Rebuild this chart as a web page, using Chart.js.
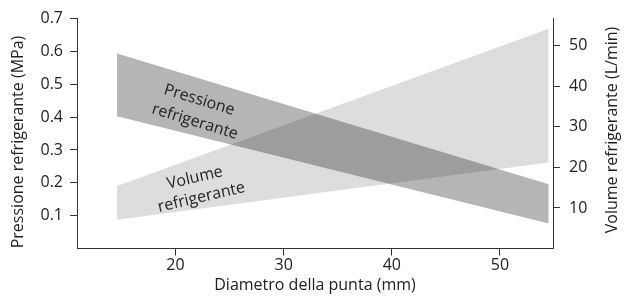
<!DOCTYPE html>
<html><head><meta charset="utf-8">
<script src="https://cdn.jsdelivr.net/npm/chart.js@4/dist/chart.umd.min.js"></script>
<style>html,body{margin:0;padding:0;background:#fff}#wrap{width:630px;height:307px}</style>
</head><body><div id="wrap"><canvas id="c" width="630" height="307"></canvas></div>
<script>
const diameters = [14.6, 54.5];
const pressureUpper = [0.594, 0.196];
const pressureLower = [0.403, 0.076];
const volumeUpper = [15.4, 54.2];
const volumeLower = [7.1, 21.2];
const xTicks = [20, 30, 40, 50];
const pressureTicks = [0.1, 0.2, 0.3, 0.4, 0.5, 0.6, 0.7];
const volumeTicks = [10, 20, 30, 40, 50];
const xTitle = 'Diametro della punta (mm)';
const pressureTitle = 'Pressione refrigerante (MPa)';
const volumeTitle = 'Volume refrigerante (L/min)';
const bandLabels = [
  {text: 'Pressione', axis: 'yP', x: 22.2, y: 0.452, rot: 17},
  {text: 'refrigerante', axis: 'yP', x: 21.8, y: 0.386, rot: 17},
  {text: 'Volume', axis: 'yV', x: 21.8, y: 17.4, rot: -13},
  {text: 'refrigerante', axis: 'yV', x: 22.4, y: 12.6, rot: -13}
];

const FONT = '"Open Sans"';
const FS = 16;
const TXT = '#222';
const AX = '#333';
const pts = (ys) => diameters.map((d, i) => ({x: d, y: ys[i]}));

const textPlugin = {
  id: 'bandText',
  afterDraw(chart) {
    const {ctx, scales} = chart;
    const x = scales.x;
    ctx.save();
    ctx.fillStyle = TXT;
    ctx.textAlign = 'center';
    ctx.textBaseline = 'middle';
    ctx.font = FS + 'px ' + FONT;
    for (const l of bandLabels) {
      const px = x.getPixelForValue(l.x);
      const py = scales[l.axis].getPixelForValue(l.y);
      ctx.save();
      ctx.translate(px, py);
      ctx.rotate(l.rot * Math.PI / 180);
      ctx.fillText(l.text, 0, 0);
      ctx.restore();
    }
    ctx.save();
    ctx.translate(18, 142);
    ctx.rotate(-Math.PI / 2);
    ctx.fillText(pressureTitle, 0, 0);
    ctx.restore();
    ctx.save();
    ctx.translate(612, 130);
    ctx.rotate(-Math.PI / 2);
    ctx.fillText(volumeTitle, 0, 0);
    ctx.restore();
    ctx.restore();
  }
};

const axisCommon = {
  grid: {drawOnChartArea: false, drawTicks: true, tickLength: 7, color: AX, lineWidth: 1},
  border: {display: true, color: AX, width: 1}
};

new Chart(document.getElementById('c'), {
  type: 'line',
  data: {
    datasets: [
      {label: 'Pressione sup', data: pts(pressureUpper), yAxisID: 'yP', fill: '+1',
       backgroundColor: 'rgba(0,0,0,0.29)', borderWidth: 0, pointRadius: 0, tension: 0},
      {label: 'Pressione inf', data: pts(pressureLower), yAxisID: 'yP', fill: false,
       borderWidth: 0, pointRadius: 0, tension: 0},
      {label: 'Volume sup', data: pts(volumeUpper), yAxisID: 'yV', fill: '+1',
       backgroundColor: 'rgba(0,0,0,0.135)', borderWidth: 0, pointRadius: 0, tension: 0},
      {label: 'Volume inf', data: pts(volumeLower), yAxisID: 'yV', fill: false,
       borderWidth: 0, pointRadius: 0, tension: 0}
    ]
  },
  options: {
    responsive: false,
    animation: false,
    layout: {padding: {top: 14.7, left: 0, right: 0, bottom: 0}},
    plugins: {legend: {display: false}, tooltip: {enabled: false}},
    scales: {
      x: Object.assign({}, axisCommon, {
        type: 'linear', min: 10.9, max: 54.9,
        afterBuildTicks: (s) => { s.ticks = xTicks.map(v => ({value: v})); },
        afterFit: (s) => { s.height = 58.5; },
        ticks: {color: TXT, font: {family: FONT, size: FS}, padding: 0},
        title: {display: true, text: xTitle, color: TXT, font: {family: FONT, size: FS}, padding: {top: 0, bottom: 12}}
      }),
      yP: Object.assign({}, axisCommon, {
        type: 'linear', position: 'left', min: 0, max: 0.7,
        afterBuildTicks: (s) => { s.ticks = pressureTicks.map(v => ({value: v})); },
        afterFit: (s) => { s.width = 77; },
        ticks: {color: TXT, font: {family: FONT, size: FS}, padding: 7}
      }),
      yV: Object.assign({}, axisCommon, {
        type: 'linear', position: 'right', min: 0, max: 56.7,
        afterBuildTicks: (s) => { s.ticks = volumeTicks.map(v => ({value: v})); },
        afterFit: (s) => { s.width = 77; },
        ticks: {color: TXT, font: {family: FONT, size: FS}, padding: 9}
      })
    }
  },
  plugins: [textPlugin]
});
</script>
</body></html>
